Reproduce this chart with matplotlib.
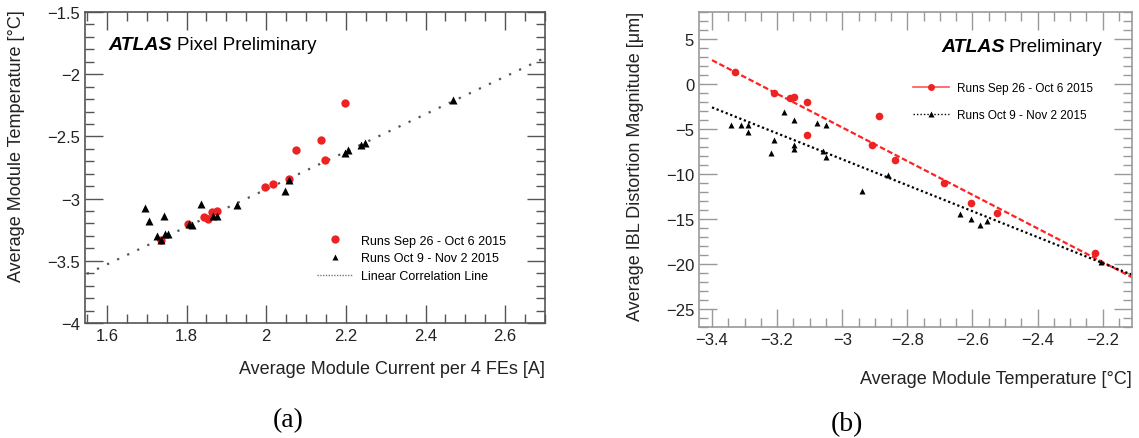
import numpy as np
import matplotlib
matplotlib.use('Agg')
import matplotlib.pyplot as plt
from matplotlib.ticker import MultipleLocator
from matplotlib.lines import Line2D

plt.rcParams['font.family'] = ['Liberation Sans', 'DejaVu Sans']

# (a) temperature vs current
curr_sep = [2.198, 2.137, 2.076, 2.148, 2.057, 2.017, 1.997, 1.865, 1.876,
            1.845, 1.855, 1.803, 1.735]
temp_sep = [-2.228, -2.53, -2.61, -2.693, -2.839, -2.885, -2.906, -3.106,
            -3.101, -3.146, -3.16, -3.205, -3.33]
curr_oct = [2.469, 2.247, 2.237, 2.205, 2.197, 2.057, 2.047, 1.927, 1.837,
            1.876, 1.866, 1.814, 1.805, 1.696, 1.705, 1.744, 1.725, 1.736,
            1.745, 1.754]
temp_oct = [-2.204, -2.554, -2.573, -2.61, -2.63, -2.853, -2.935, -3.053,
            -3.042, -3.141, -3.141, -3.216, -3.202, -3.077, -3.178, -3.143,
            -3.301, -3.336, -3.282, -3.282]
corr_x = [1.55, 2.70]
corr_y = [-3.605, -1.868]

# (b) distortion vs temperature
t_sep = [-3.328, -3.210, -3.159, -3.149, -3.109, -3.109, -2.887, -2.909,
         -2.838, -2.686, -2.605, -2.526, -2.224]
d_sep = [1.31, -0.98, -1.50, -1.43, -1.98, -5.64, -3.61, -6.82, -8.48,
         -10.96, -13.21, -14.36, -18.79]
t_oct = [-3.341, -3.310, -3.290, -3.290, -3.220, -3.210, -3.180, -3.149,
         -3.149, -3.149, -3.079, -3.049, -3.059, -3.049, -2.938, -2.858,
         -2.637, -2.605, -2.577, -2.555, -2.204]
d_oct = [-4.60, -4.53, -4.53, -5.31, -7.63, -6.19, -3.16, -4.01, -6.82,
         -7.26, -4.38, -4.53, -7.49, -8.11, -11.92, -10.11, -14.47, -14.99,
         -15.72, -15.17, -19.82]
fit_x = [-3.40, -2.11]
fit_sep = [2.65, -21.47]
fit_oct = [-2.60, -21.20]

W, H = 1139, 439
fig = plt.figure(figsize=(W / 100, H / 100), dpi=100)


def px_axes(x0, y0, x1, y1):
    return fig.add_axes([x0 / W, 1 - y1 / H, (x1 - x0) / W, (y1 - y0) / H])


def minus_fmt(v, p):
    return f'{v:g}'.replace('-', '\u2212')


def style(ax, frame_col, major, minor, mlen):
    for s in ax.spines.values():
        s.set_color(frame_col)
        s.set_linewidth(1.2)
    ax.tick_params(which='both', direction='in', top=True, right=True,
                   color=frame_col, labelsize=12, labelcolor='#222222',
                   width=1.0)
    ax.tick_params(which='major', length=mlen)
    ax.tick_params(which='minor', length=mlen / 2)
    ax.xaxis.set_major_locator(MultipleLocator(major[0]))
    ax.xaxis.set_minor_locator(MultipleLocator(minor[0]))
    ax.yaxis.set_major_locator(MultipleLocator(major[1]))
    ax.yaxis.set_minor_locator(MultipleLocator(minor[1]))
    ax.xaxis.set_major_formatter(plt.FuncFormatter(minus_fmt))
    ax.yaxis.set_major_formatter(plt.FuncFormatter(minus_fmt))


# ---- panel (a)
ax1 = px_axes(85, 13, 545, 324)
ax1.plot(corr_x, corr_y, color='#555555', lw=1.6, ls=(0, (1, 4)))
ax1.plot(curr_sep, temp_sep, 'o', color='#ee2222', ms=6, mec='none')
ax1.plot(curr_oct, temp_oct, '^', color='black', ms=5.5, mec='none')
ax1.set_xlim(1.545, 2.70)
ax1.set_ylim(-4, -1.5)
style(ax1, '#555555', (0.2, 0.5), (0.05, 0.1), 13)
fig.text(108 / W, 1 - 45 / H, 'ATLAS', fontsize=14,
         fontweight='bold', style='italic', va='center')
fig.text(177 / W, 1 - 45 / H, 'Pixel Preliminary', fontsize=13.5, va='center')
h1 = [Line2D([], [], ls='none', marker='o', color='#ee2222', ms=6, mec='none'),
      Line2D([], [], ls='none', marker='^', color='black', ms=5, mec='none'),
      Line2D([], [], color='#777777', lw=1.0, ls=(0, (1, 1)))]
ax1.legend(h1, ['Runs Sep 26 - Oct 6 2015', 'Runs Oct 9 - Nov 2 2015',
                'Linear Correlation Line'],
           loc='upper left', bbox_to_anchor=(0.48, 0.32), frameon=False,
           fontsize=9, handlelength=2.8, handletextpad=0.7, labelspacing=0.45)
fig.text(545 / W, 1 - 370 / H, 'Average Module Current per 4 FEs [A]',
         ha='right', va='center', fontsize=13, color='#222222')
fig.text(17 / W, 1 - 10 / H, 'Average Module Temperature [\u00b0C]', rotation=90,
         ha='center', va='top', fontsize=13, color='#222222')
fig.text(288 / W, 1 - 421 / H, '(a)', ha='center', va='center', fontsize=20,
         family='Liberation Serif')

# ---- panel (b)
ax2 = px_axes(699, 13, 1132, 328)
ax2.plot(fit_x, fit_sep, color='#ff2222', lw=1.6, ls=(0, (2.5, 1.2)))
ax2.plot(fit_x, fit_oct, color='black', lw=1.6, ls=(0, (1, 1.2)))
ax2.plot(t_sep, d_sep, 'o', color='#ee2222', ms=5.5, mec='none')
ax2.plot(t_oct, d_oct, '^', color='black', ms=4, mec='none')
ax2.set_xlim(-3.44, -2.11)
ax2.set_ylim(-27, 8)
style(ax2, '#999999', (0.2, 5), (0.05, 1), 13)
fig.text(941 / W, 1 - 47 / H, 'ATLAS', fontsize=14,
         fontweight='bold', style='italic', va='center')
fig.text(1008 / W, 1 - 47 / H, 'Preliminary', fontsize=13.5, va='center')
h2 = [Line2D([], [], marker='o', color='#ff5555', ms=5, mfc='#ee2222',
             mec='none', lw=1.2),
      Line2D([], [], marker='^', color='black', ms=4, mec='none', lw=1.0,
             ls=(0, (1, 1.5)))]
ax2.legend(h2, ['Runs Sep 26 - Oct 6 2015', 'Runs Oct 9 - Nov 2 2015'],
           loc='upper left', bbox_to_anchor=(0.47, 0.81), frameon=False,
           fontsize=8.5, handlelength=3.0, handletextpad=0.7, labelspacing=1.2)
fig.text(1132 / W, 1 - 380 / H, 'Average Module Temperature [\u00b0C]',
         ha='right', va='center', fontsize=13, color='#222222')
fig.text(635 / W, 1 - 12 / H, 'Average IBL Distortion Magnitude [\u03bcm]',
         rotation=90, ha='center', va='top', fontsize=13, color='#222222')
fig.text(847 / W, 1 - 425 / H, '(b)', ha='center', va='center', fontsize=20,
         family='Liberation Serif')

fig.savefig('out.png', dpi=100)
